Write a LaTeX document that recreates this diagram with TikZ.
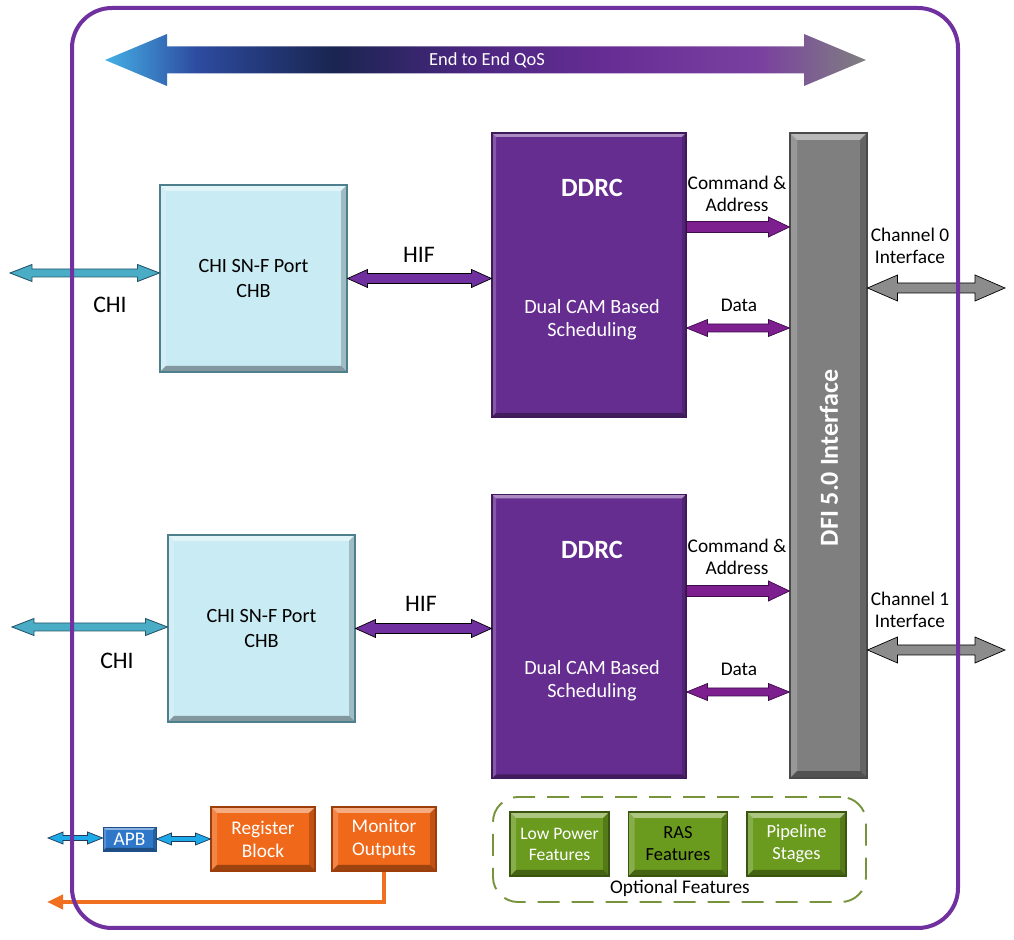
\documentclass[tikz,border=0pt]{standalone}
\usepackage{fontspec}
\setmainfont{Carlito}
\usetikzlibrary{calc,arrows.meta}
\definecolor{framepurple}{HTML}{7030A0}
\definecolor{ddrcfill}{HTML}{662D91}
\definecolor{ddrcedge}{HTML}{3E1A5A}
\definecolor{chifill}{HTML}{C9EBF3}
\definecolor{chiedge}{HTML}{4E7F8C}
\definecolor{chiteal}{HTML}{4BACC6}
\definecolor{chitealedge}{HTML}{24566A}
\definecolor{hifpurple}{HTML}{7030A0}
\definecolor{cmdpurple}{HTML}{7E1F90}
\definecolor{cmdedge}{HTML}{3C0C48}
\definecolor{dfifill}{HTML}{7F7F7F}
\definecolor{dfiedge}{HTML}{4A4A4A}
\definecolor{changray}{HTML}{8C8C8C}
\definecolor{apbfill}{HTML}{2F77C9}
\definecolor{apbedge}{HTML}{1F4E8C}
\definecolor{apbcyan}{HTML}{1EAAE8}
\definecolor{apbcyanedge}{HTML}{1F3A5A}
\definecolor{orangefill}{HTML}{F0681A}
\definecolor{orangeedge}{HTML}{9C3D0A}
\definecolor{outorange}{HTML}{F07020}
\definecolor{greenfill}{HTML}{6A9A1E}
\definecolor{greenedge}{HTML}{3A5510}
\definecolor{dashgreen}{HTML}{77933C}
\definecolor{qosA}{HTML}{45B0E6}
\definecolor{qosB}{HTML}{2D4BA0}
\definecolor{qosC}{HTML}{1A2550}
\definecolor{qosD}{HTML}{4A2680}
\definecolor{qosE}{HTML}{672D94}
\definecolor{qosF}{HTML}{7A40A0}
\definecolor{qosG}{HTML}{808080}
\pgfdeclarehorizontalshading{qosshade}{100bp}{color(0bp)=(qosA); color(25bp)=(qosA); color(31bp)=(qosB); color(40bp)=(qosC); color(49bp)=(qosD); color(58bp)=(qosE); color(68bp)=(qosF); color(75bp)=(qosG); color(100bp)=(qosG)}
\begin{document}
\begin{tikzpicture}[x=0.2mm, y=-0.2mm,
  bevel/.style={path picture={
    \coordinate (bnw) at (path picture bounding box.north west);
    \coordinate (bne) at (path picture bounding box.north east);
    \coordinate (bsw) at (path picture bounding box.south west);
    \coordinate (bse) at (path picture bounding box.south east);
    \fill[white, opacity=.45] (bnw) -- (bne) -- ([shift={(-#1,-#1)}]bne) -- ([shift={(#1,-#1)}]bnw) -- cycle;
    \fill[white, opacity=.2] (bnw) -- ([shift={(#1,-#1)}]bnw) -- ([shift={(#1,#1)}]bsw) -- (bsw) -- cycle;
    \fill[black, opacity=.35] (bsw) -- (bse) -- ([shift={(-#1,#1)}]bse) -- ([shift={(#1,#1)}]bsw) -- cycle;
    \fill[black, opacity=.2] (bne) -- (bse) -- ([shift={(-#1,#1)}]bse) -- ([shift={(-#1,-#1)}]bne) -- cycle;
  }},
  dblblk/.style n args={3}{to path={let \p1=(\tikztostart), \p2=(\tikztotarget) in
    -- (\x1+#3,\y1-#2) -- (\x1+#3,\y1-#1) -- (\x2-#3,\y1-#1) -- (\x2-#3,\y1-#2) -- (\x2,\y1)
    -- (\x2-#3,\y1+#2) -- (\x2-#3,\y1+#1) -- (\x1+#3,\y1+#1) -- (\x1+#3,\y1+#2) -- cycle}},
  rblk/.style n args={3}{to path={let \p1=(\tikztostart), \p2=(\tikztotarget) in
    -- (\x1,\y1-#1) -- (\x2-#3,\y1-#1) -- (\x2-#3,\y1-#2) -- (\x2,\y1)
    -- (\x2-#3,\y1+#2) -- (\x2-#3,\y1+#1) -- (\x1,\y1+#1) -- cycle}},
  chibox/.style={draw=chiedge, fill=chifill, line width=0.6pt, minimum width=37.4mm, minimum height=37.4mm,
    align=center, font=\fontsize{11.5}{14}\selectfont, bevel=1.2mm},
  ddrcbox/.style={draw=ddrcedge, fill=ddrcfill, line width=0.6pt, minimum width=38.8mm, minimum height=56.8mm, bevel=0.8mm},
  dfibox/.style={draw=dfiedge, fill=dfifill, line width=0.6pt, minimum width=15.4mm, minimum height=129mm, bevel=1.4mm},
  apbbox/.style={draw=apbedge, fill=apbfill, line width=0.5pt, minimum width=10.6mm, minimum height=4.8mm, inner sep=0pt,
    text=white, font=\fontsize{11}{13}\selectfont, bevel=0.6mm},
  orangebox/.style={draw=orangeedge, fill=orangefill, line width=0.6pt, minimum width=20.8mm, minimum height=12.8mm,
    inner sep=0pt, text=white, align=center, font=\fontsize{11}{13}\selectfont, bevel=1.2mm},
  greenbox/.style={draw=greenedge, fill=greenfill, line width=0.6pt, minimum width=19.8mm, minimum height=12.8mm,
    inner sep=0pt, text=white, align=center, font=\fontsize{10}{12}\selectfont, bevel=1.2mm},
  optframe/.style={draw=dashgreen, line width=1.1pt, dash pattern=on 4.4mm off 2.4mm, rounded corners=5mm,
    minimum width=74.6mm, minimum height=21mm},
  lbl/.style={align=center, font=\fontsize{11}{12.5}\selectfont},
  biglbl/.style={font=\fontsize{13.5}{16}\selectfont},
  wlbl/.style={text=white, align=center, font=\fontsize{11.5}{13.2}\selectfont},
  chiarr/.style={draw=chitealedge, fill=chiteal, line width=0.5pt, dblblk={0.8mm}{1.7mm}{4.4mm}},
  hifarr/.style={fill=hifpurple, dblblk={1mm}{1.8mm}{4mm}},
  cmdarr/.style={draw=cmdedge, fill=cmdpurple, line width=0.4pt, rblk={1.1mm}{2mm}{4.2mm}},
  dataarr/.style={draw=cmdedge, fill=cmdpurple, line width=0.4pt, dblblk={0.8mm}{1.7mm}{4.2mm}},
  charr/.style={fill=changray, dblblk={1mm}{2.6mm}{6mm}},
  apbarr/.style={draw=apbcyanedge, fill=apbcyan, line width=0.4pt, dblblk={0.5mm}{1.2mm}{3mm}},
  outarr/.style={draw=outorange, line width=0.8mm, -{Triangle[length=3.2mm, width=2.8mm]}}]
\useasboundingbox (0,0) rectangle (1014,940);
\coordinate (qosL) at (105,60);
\coordinate (qosR) at (866,60);
\shade[shading=qosshade] (qosL) to[dblblk={2.7mm}{5.2mm}{12.4mm}] (qosR);
\node[wlbl, font=\fontsize{10.5}{12}\selectfont] (qoslbl) at (487,60) {End to End QoS};
\node[chibox] (chi1) at (253.5,278.5) {CHI SN-F Port\\CHB};
\node[chibox] (chi2) at (261.5,628.5) {CHI SN-F Port\\CHB};
\node[ddrcbox] (ddrc1) at (589,275) {};
\node[ddrcbox] (ddrc2) at (589,636.5) {};
\node[dfibox] (dfi) at (828.5,455.5) {};
\node[wlbl, font=\fontsize{15}{18}\selectfont\bfseries] (ddrclbl1) at (592,188) {DDRC};
\node[wlbl] (schedlbl1) at (592,320) {Dual CAM Based\\Scheduling};
\node[wlbl, font=\fontsize{15}{18}\selectfont\bfseries] (ddrclbl2) at (592,550) {DDRC};
\node[wlbl] (schedlbl2) at (592,681) {Dual CAM Based\\Scheduling};
\node[wlbl, rotate=90, font=\fontsize{14.8}{17}\selectfont\bfseries] (dfilbl) at (829,458) {DFI 5.0 Interface};
\coordinate (chiin1) at (10,273);
\coordinate (chiin2) at (12,627);
\draw[chiarr] (chiin1) to (chi1.west |- chiin1);
\draw[chiarr] (chiin2) to (chi2.west |- chiin2);
\node[biglbl] (chilbl1) at (110,305) {CHI};
\node[biglbl] (chilbl2) at (117,661) {CHI};
\draw[hifarr] (chi1.east) to (ddrc1.west);
\draw[hifarr] (chi2.east) to (ddrc2.west);
\node[biglbl] (hiflbl1) at (419,255) {HIF};
\node[biglbl] (hiflbl2) at (421,604) {HIF};
\draw[cmdarr] ([yshift=9.6mm]ddrc1.east) to (dfi.west);
\draw[dataarr] ([yshift=-10.6mm]ddrc1.east) to (dfi.west);
\draw[cmdarr] ([yshift=9.1mm]ddrc2.east) to (dfi.west);
\draw[dataarr] ([yshift=-11.1mm]ddrc2.east) to (dfi.west);
\node[lbl] (cmdlbl1) at (737,194) {Command \&\\Address};
\node[lbl] (datalbl1) at (739,305) {Data};
\node[lbl] (cmdlbl2) at (737,557) {Command \&\\Address};
\node[lbl] (datalbl2) at (739,669) {Data};
\coordinate (ch0out) at (1005,288);
\coordinate (ch1out) at (1005,650);
\draw[charr] (dfi.east |- ch0out) to (ch0out);
\draw[charr] (dfi.east |- ch1out) to (ch1out);
\node[lbl] (ch0lbl) at (910,246) {Channel 0\\Interface};
\node[lbl] (ch1lbl) at (910,610) {Channel 1\\Interface};
\node[apbbox] (apb) at (129.5,839) {APB};
\node[orangebox] (reg) at (263,839) {Register\\Block};
\node[orangebox] (mon) at (384,839) {Monitor\\Outputs};
\coordinate (apbin) at (48,838);
\draw[apbarr] (apbin) to (apb.west);
\draw[apbarr] (apb.east) to (reg.west);
\coordinate (monout) at (47,902);
\draw[outarr] (mon.south) |- (monout);
\node[optframe] (optfeat) at (679.5,849.5) {};
\node[greenbox] (lowpow) at (559.5,844) {Low Power\\Features};
\node[greenbox, text=black, font=\fontsize{10.5}{12.5}\selectfont] (ras) at (678,844) {RAS\\Features};
\node[greenbox, font=\fontsize{10.5}{12.5}\selectfont] (pipe) at (796.5,844) {Pipeline\\Stages};
\node[lbl] (optlbl) at (680,888) {Optional Features};
\draw[draw=framepurple, line width=0.8mm, rounded corners=8mm] (72,8) rectangle (958,928);
\end{tikzpicture}
\end{document}
